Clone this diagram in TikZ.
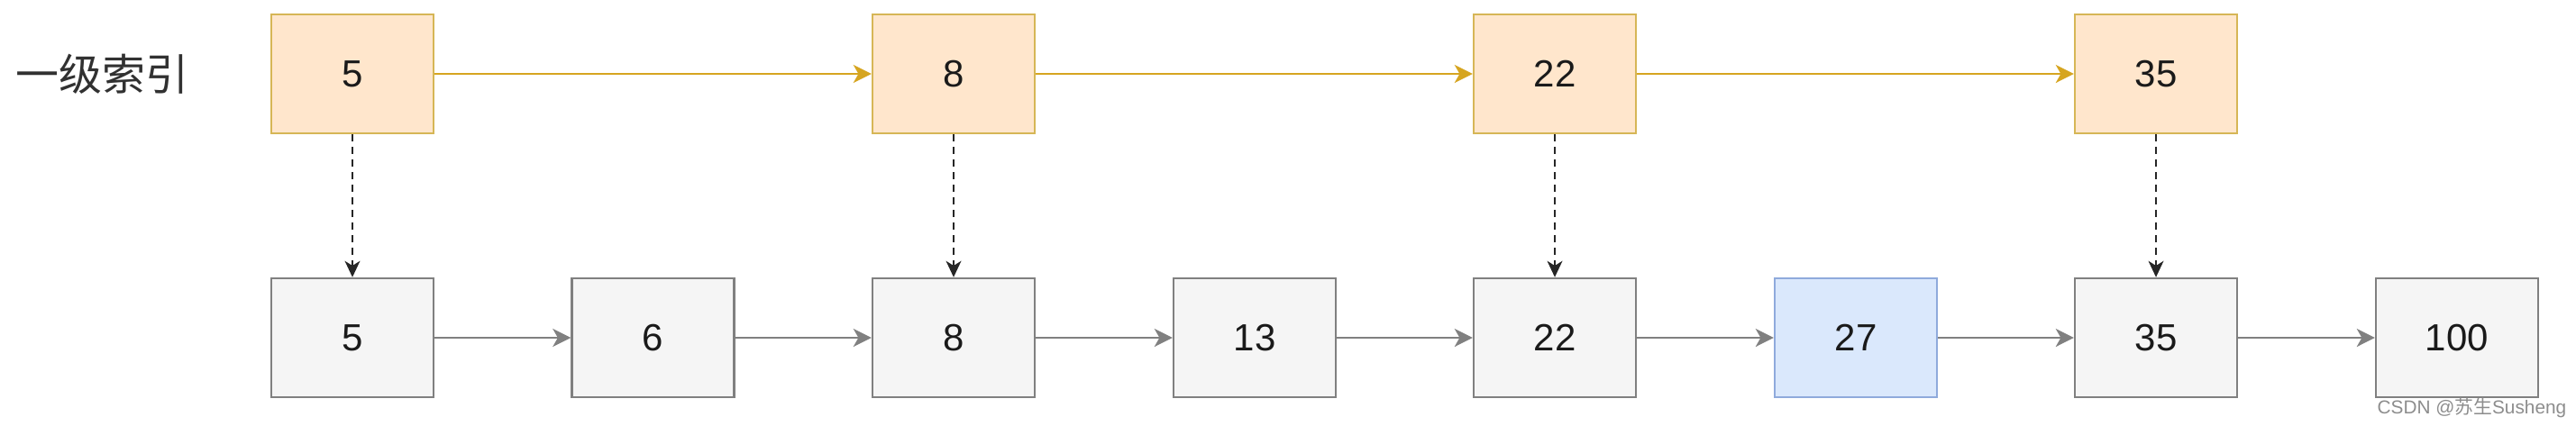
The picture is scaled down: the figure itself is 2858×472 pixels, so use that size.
\documentclass[tikz,border=0pt]{standalone}
\usepackage{fontspec}
\setmainfont{Liberation Sans}
\newfontfamily\cjk{Noto Sans CJK SC}
\usetikzlibrary{arrows.meta}
\definecolor{orfill}{HTML}{FFE6CC}
\definecolor{ordraw}{HTML}{D6B656}
\definecolor{orarrow}{HTML}{D6A520}
\definecolor{grfill}{HTML}{F5F5F5}
\definecolor{grdraw}{HTML}{808080}
\definecolor{blfill}{HTML}{DAE8FC}
\definecolor{bldraw}{HTML}{8FAADC}
\definecolor{txt}{HTML}{1A1A1A}
\tikzset{
  box/.style={draw, line width=0.6pt, minimum width=45pt, minimum height=33pt, inner sep=0pt,
    font=\fontsize{10.5}{12}\selectfont, text=txt},
  topbox/.style={box, fill=orfill, draw=ordraw},
  lowbox/.style={box, fill=grfill, draw=grdraw},
  hitbox/.style={box, fill=blfill, draw=bldraw},
  toparrow/.style={draw=orarrow, line width=0.7pt, -{Stealth[length=5pt,width=5pt,inset=1.4pt]}},
  lowarrow/.style={draw=grdraw, line width=0.7pt, -{Stealth[length=5pt,width=5pt,inset=1.4pt]}},
  downarrow/.style={draw=black!85, line width=0.55pt, dash pattern=on 2pt off 1.5pt, -{Stealth[length=4.5pt,width=4.2pt,inset=1.3pt]}}
}
\begin{document}
\begin{tikzpicture}[x=0.25pt,y=-0.25pt]
\useasboundingbox (0,0) rectangle (2858,472);
\node[font=\cjk\fontsize{12}{14}\selectfont, text=txt!90] (lbl) at (114,82) {一级索引};
% top row
\node[topbox] (t5) at (391,82) {5};
\node[topbox] (t8) at (1058,82) {8};
\node[topbox] (t22) at (1725,82) {22};
\node[topbox] (t35) at (2392,82) {35};
% bottom row
\node[lowbox] (b5) at (391,375) {5};
\node[lowbox] (b6) at (724.5,375) {6};
\node[lowbox] (b8) at (1058,375) {8};
\node[lowbox] (b13) at (1392,375) {13};
\node[lowbox] (b22) at (1725,375) {22};
\node[hitbox] (b27) at (2059,375) {27};
\node[lowbox] (b35) at (2392,375) {35};
\node[lowbox] (b100) at (2726,375) {100};
% top arrows
\draw[toparrow] (t5) -- (t8);
\draw[toparrow] (t8) -- (t22);
\draw[toparrow] (t22) -- (t35);
% bottom arrows
\draw[lowarrow] (b5) -- (b6);
\draw[lowarrow] (b6) -- (b8);
\draw[lowarrow] (b8) -- (b13);
\draw[lowarrow] (b13) -- (b22);
\draw[lowarrow] (b22) -- (b27);
\draw[lowarrow] (b27) -- (b35);
\draw[lowarrow] (b35) -- (b100);
% down arrows
\draw[downarrow] (t5) -- (b5);
\draw[downarrow] (t8) -- (b8);
\draw[downarrow] (t22) -- (b22);
\draw[downarrow] (t35) -- (b35);
% watermark
\node[anchor=east, inner sep=0pt, text=grdraw!90, font=\fontsize{5.2}{6}\selectfont] (wm) at (2848,453) {CSDN @{\cjk 苏生}Susheng};
\end{tikzpicture}
\end{document}
